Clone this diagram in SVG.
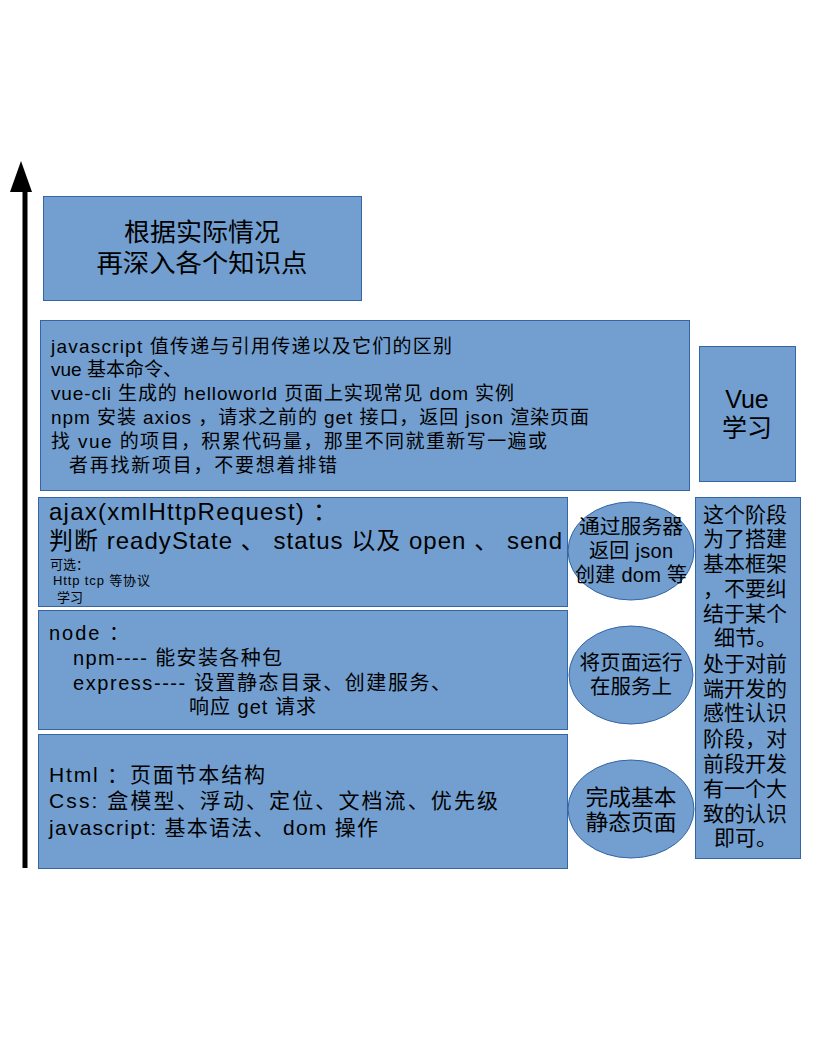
<svg xmlns="http://www.w3.org/2000/svg" width="816" height="1056" viewBox="0 0 816 1056">
<style>
.b{fill:#729fcf;stroke:#3465a4;stroke-width:1}
text{font-family:"Liberation Sans","Noto Sans CJK SC",sans-serif;fill:#000}
.c{text-anchor:middle}
</style>
<rect width="816" height="1056" fill="#fff"/>
<g id="connectors">
<line x1="25" y1="868" x2="25" y2="188" stroke="#000" stroke-width="5"/>
<polygon points="21,161 10,192 32,192" fill="#000"/>
</g>
<g id="deep"><rect class="b" x="43.5" y="196.5" width="318" height="104"/>
<text class="c" x="202" y="241" font-size="25" textLength="156" lengthAdjust="spacingAndGlyphs">根据实际情况</text>
<text class="c" x="202" y="272" font-size="25" textLength="211" lengthAdjust="spacingAndGlyphs">再深入各个知识点</text></g>
<g id="vuetopics"><rect class="b" x="40.5" y="320.5" width="649" height="170"/>
<g font-size="19"><text x="51" y="353" textLength="401">javascript 值传递与引用传递以及它们的区别</text>
<text x="51" y="376">vue 基本命令、</text>
<text x="51" y="400" textLength="463">vue-cli 生成的 helloworld 页面上实现常见 dom 实例</text>
<text x="51" y="424" textLength="538">npm 安装 axios ，请求之前的 get 接口，返回 json 渲染页面</text>
<text x="51" y="448" textLength="496">找 vue 的项目，积累代码量，那里不同就重新写一遍或</text>
<text x="69" y="472" textLength="268">者再找新项目，不要想着排错</text></g></g>
<g id="vue"><rect class="b" x="699.5" y="346.5" width="96" height="135"/>
<text class="c" x="747" y="408" font-size="25">Vue</text>
<text class="c" x="747" y="437" font-size="25">学习</text></g>
<g id="ajax"><rect class="b" x="38.5" y="497.5" width="529" height="109"/>
<text x="49" y="520" font-size="24" textLength="288">ajax(xmlHttpRequest) ：</text>
<text x="49" y="549" font-size="24" textLength="513">判断 readyState 、 status 以及 open 、 send</text>
<text x="50" y="569" font-size="13">可选：</text>
<text x="53" y="585" font-size="13" textLength="97">Http tcp 等协议</text>
<text x="57" y="602" font-size="13">学习</text></g>
<g id="node"><rect class="b" x="38.5" y="610.5" width="529" height="119"/>
<g font-size="20"><text x="49" y="640" textLength="80">node ：</text>
<text x="73" y="665" textLength="209">npm---- 能安装各种包</text>
<text x="73" y="690" textLength="378">express---- 设置静态目录、创建服务、</text>
<text x="189" y="714" textLength="127">响应 get 请求</text></g></g>
<g id="html"><rect class="b" x="38.5" y="734.5" width="529" height="134"/>
<g font-size="21"><text x="49" y="782" textLength="216">Html ：页面节本结构</text>
<text x="49" y="808" textLength="449">Css: 盒模型、浮动、定位、文档流、优先级</text>
<text x="49" y="835" textLength="329">javascript: 基本语法、 dom 操作</text></g></g>
<g id="e1"><ellipse class="b" cx="631" cy="551" rx="63" ry="49"/>
<g font-size="20"><text class="c" x="631" y="534" textLength="104" lengthAdjust="spacingAndGlyphs">通过服务器</text>
<text class="c" x="631" y="558" textLength="84">返回 json</text>
<text class="c" x="631" y="582" textLength="112">创建 dom 等</text></g></g>
<g id="e2"><ellipse class="b" cx="631" cy="675" rx="62" ry="49"/>
<g font-size="20"><text class="c" x="631" y="670" textLength="103" lengthAdjust="spacingAndGlyphs">将页面运行</text>
<text class="c" x="631" y="694" textLength="82" lengthAdjust="spacingAndGlyphs">在服务上</text></g></g>
<g id="e3"><ellipse class="b" cx="631" cy="809" rx="63" ry="49"/>
<g font-size="22"><text class="c" x="631" y="805" textLength="91" lengthAdjust="spacingAndGlyphs">完成基本</text>
<text class="c" x="631" y="830" textLength="91" lengthAdjust="spacingAndGlyphs">静态页面</text></g></g>
<g id="note"><rect class="b" x="695.5" y="497.5" width="105" height="361"/>
<g font-size="21"><text x="703" y="522">这个阶段</text>
<text x="703" y="546">为了搭建</text>
<text x="703" y="571">基本框架</text>
<text x="703" y="596">，不要纠</text>
<text x="703" y="621">结于某个</text>
<text x="714" y="645">细节。</text>
<text x="703" y="671">处于对前</text>
<text x="703" y="696">端开发的</text>
<text x="703" y="720">感性认识</text>
<text x="703" y="746">阶段，对</text>
<text x="703" y="771">前段开发</text>
<text x="703" y="796">有一个大</text>
<text x="703" y="821">致的认识</text>
<text x="714" y="845">即可。</text></g></g>
</svg>
